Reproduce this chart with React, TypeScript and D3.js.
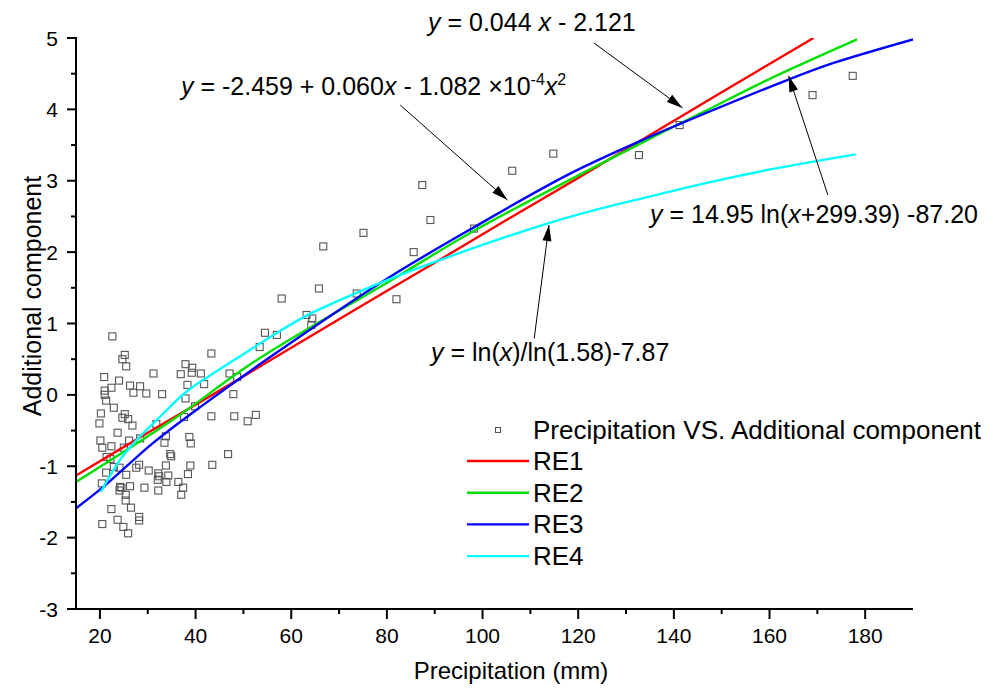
import * as d3 from "d3";

// scatter: Precipitation VS. Additional component
const precipitation = [
  22.6, 25.2, 24.7, 25.5, 31.2, 20.9, 24.0, 22.4, 21.0, 21.0, 21.3, 26.3, 28.4, 27.0, 29.7, 33.0,
  22.9, 20.2, 25.2, 24.7, 25.9, 19.9, 26.8, 31.8, 23.7, 20.1, 26.1, 28.4, 33.8, 20.5, 22.4, 25.0,
  33.5, 21.4, 22.2, 34.7, 34.9, 22.9, 24.1, 27.6, 28.2, 33.8, 30.2, 21.3, 25.5, 32.2, 32.4, 34.3,
  32.1, 33.9, 20.4, 24.2, 24.5, 26.3, 29.3, 24.1, 32.2, 25.4, 25.4, 26.5, 22.4, 20.5, 23.7, 28.2,
  28.2, 24.9, 25.9, 37.9, 39.3, 36.9, 39.2, 41.1, 43.3, 38.3, 41.8, 37.9, 39.9, 37.6, 43.3, 47.1,
  48.7, 47.9, 48.1, 50.9, 52.6, 53.4, 54.5, 38.7, 39.0, 38.9, 38.4, 43.5, 46.8, 36.4, 37.4, 37.0,
  58.0, 65.8, 66.7, 63.2, 64.4, 64.2, 73.7, 75.1, 82.0, 85.6, 87.4, 89.1, 98.2, 106.2, 114.8,
  132.7, 141.2, 169.0, 177.4, 57.0,
];
const additional = [
  0.82, 0.56, 0.5, 0.4, 0.3, 0.25, 0.2, 0.1, 0.06, 0.0, -0.08, 0.13, 0.12, 0.03, 0.02, 0.01,
  -0.18, -0.26, -0.27, -0.32, -0.34, -0.4, -0.43, -0.41, -0.53, -0.64, -0.64, -0.61, -0.58, -0.74, -0.72, -0.74,
  -0.67, -0.87, -0.9, -0.83, -0.86, -1.01, -1.02, -1.02, -0.98, -0.99, -1.06, -1.09, -1.12, -1.1, -1.14, -1.13,
  -1.19, -1.22, -1.24, -1.29, -1.3, -1.28, -1.3, -1.34, -1.34, -1.4, -1.48, -1.58, -1.6, -1.81, -1.75, -1.71,
  -1.76, -1.85, -1.94, 0.43, 0.38, 0.29, 0.31, 0.3, 0.58, 0.14, 0.15, -0.05, -0.16, -0.31, -0.3, 0.3,
  0.25, 0.01, -0.3, -0.37, -0.28, 0.67, 0.87, -0.59, -0.68, -0.99, -1.11, -0.98, -0.83, -1.22, -1.3, -1.4,
  1.35, 1.49, 2.08, 1.12, 1.07, 0.98, 1.42, 2.27, 1.34, 2.0, 2.94, 2.45, 2.33, 3.14, 3.38,
  3.36, 3.78, 4.2, 4.47, 0.84,
];

// fitted curves
const re1X = [15, 30, 45, 60, 75, 90, 105, 120, 135, 150, 169.2];
const re1Y = [-1.13, -0.53, 0.06, 0.66, 1.26, 1.85, 2.45, 3.04, 3.64, 4.24, 5.0];
const re2X = [15, 35, 52.4, 81, 98.5, 135, 145.5, 159.5, 178.3];
const re2Y = [-1.22, -0.36, 0.47, 1.61, 2.31, 3.59, 3.94, 4.41, 4.98];
const re3X = [15, 20.7, 31.2, 41.6, 55.6, 79.6, 98.5, 118.3, 135.1, 141.4, 163.7, 173.4, 190];
const re3Y = [-1.59, -1.29, -0.67, -0.14, 0.53, 1.61, 2.36, 3.1, 3.62, 3.8, 4.41, 4.65, 4.98];
const re4X = [20.2, 24.2, 27.7, 31.9, 38.2, 44.4, 50, 55.6, 62.9, 74.4, 79, 93.2, 114, 124.6, 135.1, 145.5, 159.5, 178];
const re4Y = [-1.36, -0.91, -0.63, -0.35, 0.05, 0.33, 0.57, 0.81, 1.1, 1.45, 1.58, 1.94, 2.41, 2.61, 2.78, 2.95, 3.15, 3.37];

const seriesNames = ["RE1", "RE2", "RE3", "RE4"];
const seriesColors = ["#ff0000", "#00e000", "#0000ff", "#00ffff"];

const xTicks = [20, 40, 60, 80, 100, 120, 140, 160, 180];
const yTicks = [-3, -2, -1, 0, 1, 2, 3, 4, 5];

export default function App() {
  const width = 993;
  const height = 689;
  const left = 76, right = 913, top = 38, bottom = 609;
  const font = "Arial, 'Liberation Sans', sans-serif";

  const x = d3.scaleLinear().domain([15, 190]).range([left, right]);
  const y = d3.scaleLinear().domain([-3, 5]).range([bottom, top]);

  const curves = [
    [re1X, re1Y],
    [re2X, re2Y],
    [re3X, re3Y],
    [re4X, re4Y],
  ];
  const line = d3
    .line<number[]>()
    .x((d) => x(d[0]))
    .y((d) => y(d[1]))
    .curve(d3.curveCatmullRom.alpha(0.5));

  const minorX = d3.range(30, 190, 20);
  const minorY = d3.range(-2.5, 5, 1);

  // arrows: [tailX, tailY, tipX, tipY] in data units
  const arrows = [
    [123.3, 4.93, 141.8, 4.02],
    [82.8, 4.06, 105.2, 2.73],
    [172.2, 2.8, 164.0, 4.47],
    [110.8, 0.79, 113.9, 2.38],
  ];

  const arrowHead = (a) => {
    const x1 = x(a[0]), y1 = y(a[1]), x2 = x(a[2]), y2 = y(a[3]);
    const ang = Math.atan2(y2 - y1, x2 - x1);
    const L = 16, W = 4.5;
    const bx = x2 - L * Math.cos(ang), by = y2 - L * Math.sin(ang);
    const px = -Math.sin(ang) * W, py = Math.cos(ang) * W;
    return `M${x2},${y2}L${bx + px},${by + py}L${bx - px},${by - py}Z`;
  };

  const it = { fontStyle: "italic" as const };
  const legendY = (i) => 461 + i * 31.7;

  return (
    <svg
      width={width}
      height={height}
      style={{ position: "absolute", left: 0, top: 0, background: "#fff" }}
      fontFamily={font}
    >
      <defs>
        <clipPath id="plot">
          <rect x={left} y={top} width={right - left} height={bottom - top} />
        </clipPath>
      </defs>

      {/* scatter */}
      {precipitation.map((p, i) => (
        <rect
          key={i}
          x={x(p) - 3.5}
          y={y(additional[i]) - 3.5}
          width={7}
          height={7}
          fill="none"
          stroke="#555"
          strokeWidth={1.1}
        />
      ))}

      {/* fitted curves */}
      <g clipPath="url(#plot)">
        {curves.map((c, i) => (
          <path
            key={i}
            d={line(c[0].map((v, j) => [v, c[1][j]])) || ""}
            fill="none"
            stroke={seriesColors[i]}
            strokeWidth={2.4}
          />
        ))}
      </g>

      {/* axes */}
      <g stroke="#000" strokeWidth={2}>
        <line x1={left} x2={left} y1={top - 1} y2={bottom + 1} />
        <line x1={left - 1} x2={right} y1={bottom} y2={bottom} />
        {xTicks.map((t) => (
          <line key={t} x1={x(t)} x2={x(t)} y1={bottom} y2={bottom + 10} />
        ))}
        {minorX.map((t) => (
          <line key={"m" + t} x1={x(t)} x2={x(t)} y1={bottom} y2={bottom + 5} />
        ))}
        {yTicks.map((t) => (
          <line key={t} x1={left - 9} x2={left} y1={y(t)} y2={y(t)} />
        ))}
        {minorY.map((t) => (
          <line key={"m" + t} x1={left - 5} x2={left} y1={y(t)} y2={y(t)} />
        ))}
      </g>
      <g fontSize={21} fill="#000">
        {xTicks.map((t) => (
          <text key={t} x={x(t)} y={643} textAnchor="middle">
            {t}
          </text>
        ))}
        {yTicks.map((t) => (
          <text key={t} x={58} y={y(t) + 7.5} textAnchor="end">
            {t}
          </text>
        ))}
      </g>
      <text x={511} y={679} textAnchor="middle" fontSize={24}>
        Precipitation (mm)
      </text>
      <text
        transform={`translate(41,${296}) rotate(-90)`}
        textAnchor="middle"
        fontSize={25}
      >
        Additional component
      </text>

      {/* equation labels */}
      <g fontSize={25} fill="#000">
        <text x={428} y={31}>
          <tspan {...it}>y</tspan> = 0.044 <tspan {...it}>x</tspan> - 2.121
        </text>
        <text x={181} y={95}>
          <tspan {...it}>y</tspan> = -2.459 + 0.060<tspan {...it}>x</tspan> - 1.082 ×10
          <tspan dy={-10} fontSize={16}>-4</tspan>
          <tspan dy={10} {...it}>x</tspan>
          <tspan dy={-10} fontSize={16}>2</tspan>
        </text>
        <text x={650} y={223}>
          <tspan {...it}>y</tspan> = 14.95 ln(<tspan {...it}>x</tspan>+299.39) -87.20
        </text>
        <text x={431} y={361}>
          <tspan {...it}>y</tspan> = ln(<tspan {...it}>x</tspan>)/ln(1.58)-7.87
        </text>
      </g>

      {/* arrows */}
      {arrows.map((a, i) => (
        <g key={i}>
          <line x1={x(a[0])} y1={y(a[1])} x2={x(a[2])} y2={y(a[3])} stroke="#000" strokeWidth={1} />
          <path d={arrowHead(a)} fill="#000" />
        </g>
      ))}

      {/* legend */}
      <g fontSize={26}>
        <rect x={495.5} y={427.5} width={5} height={5} fill="none" stroke="#555" strokeWidth={1} />
        <text x={533} y={439}>
          Precipitation VS. Additional component
        </text>
        {seriesNames.map((n, i) => (
          <g key={n}>
            <line
              x1={467}
              x2={529}
              y1={legendY(i)}
              y2={legendY(i)}
              stroke={seriesColors[i]}
              strokeWidth={2.4}
            />
            <text x={533} y={legendY(i) + 9}>
              {n}
            </text>
          </g>
        ))}
      </g>
    </svg>
  );
}
